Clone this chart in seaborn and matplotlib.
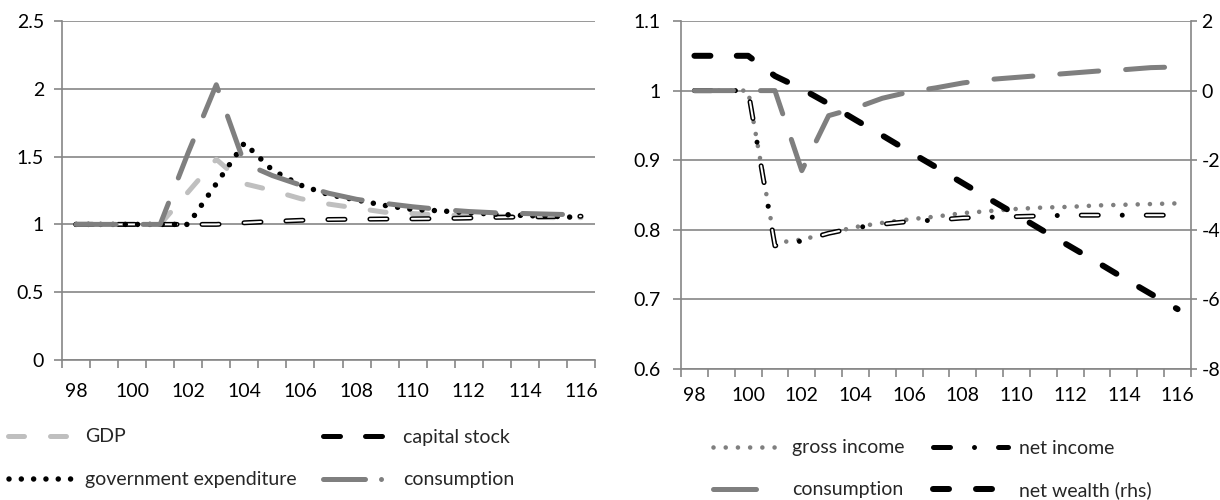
import numpy as np
import pandas as pd
import seaborn as sns
import matplotlib.pyplot as plt
from matplotlib.lines import Line2D

# ---------------------------------------------------------------- data
years = list(range(98, 117))
label_years = list(range(98, 117, 2))
label_year_text = [str(y) for y in label_years]

gdp = [1.00, 1.00, 1.00, 1.00, 1.24, 1.48, 1.30, 1.25, 1.19, 1.15,
       1.12, 1.09, 1.08, 1.07, 1.065, 1.06, 1.055, 1.05, 1.05]
capital_stock = [1.00, 1.00, 1.00, 1.00, 1.00, 1.00, 1.012, 1.022, 1.030, 1.036,
                 1.038, 1.040, 1.041, 1.043, 1.047, 1.052, 1.055, 1.058, 1.060]
government_expenditure = [1.00, 1.00, 1.00, 1.00, 1.00, 1.30, 1.60, 1.40, 1.29, 1.22,
                          1.18, 1.14, 1.11, 1.10, 1.085, 1.075, 1.065, 1.06, 1.05]
consumption_left = [1.00, 1.00, 1.00, 1.00, 1.53, 2.03, 1.45, 1.36, 1.29, 1.23,
                    1.185, 1.155, 1.13, 1.11, 1.095, 1.085, 1.08, 1.075, 1.07]

gross_income = [1.00, 1.00, 1.00, 0.781, 0.786, 0.795, 0.804, 0.810, 0.815, 0.819,
                0.824, 0.827, 0.830, 0.832, 0.833, 0.835, 0.836, 0.837, 0.838]
net_income = [1.00, 1.00, 1.00, 0.777, 0.784, 0.795, 0.803, 0.808, 0.812, 0.814,
              0.817, 0.818, 0.819, 0.820, 0.821, 0.821, 0.821, 0.821, 0.821]
consumption_right = [1.00, 1.00, 1.00, 1.00, 0.885, 0.964, 0.975, 0.989, 0.998, 1.004,
                     1.011, 1.016, 1.019, 1.022, 1.025, 1.028, 1.030, 1.033, 1.034]
net_wealth = [1.00, 1.00, 1.00, 0.42, 0.05, -0.38, -0.84, -1.29, -1.75, -2.20,
              -2.66, -3.12, -3.57, -4.03, -4.48, -4.93, -5.39, -5.84, -6.28]

left_yticks = [0, 0.5, 1, 1.5, 2, 2.5]
left_ytick_text = ["0", "0.5", "1", "1.5", "2", "2.5"]
right_yticks = [0.6, 0.7, 0.8, 0.9, 1.0, 1.1]
right_ytick_text = ["0.6", "0.7", "0.8", "0.9", "1", "1.1"]
rhs_yticks = [-8, -6, -4, -2, 0, 2]
rhs_ytick_text = ["-8", "-6", "-4", "-2", "0", "2"]

# ---------------------------------------------------------------- style
sns.set_theme(style="white")
plt.rcParams["font.family"] = ["Lato", "DejaVu Sans"]
plt.rcParams["lines.scale_dashes"] = False
plt.rcParams["lines.dash_capstyle"] = "round"
plt.rcParams["lines.solid_capstyle"] = "round"
plt.rcParams["axes.unicode_minus"] = False

FS = 14
FS_PX = FS / 72 * 100
AXIS = "#868686"
BLACK = "#000000"
DARK = "#7F7F7F"
LIGHT = "#BFBFBF"
PX = 0.72  # points per pixel at 100 dpi
LW = 5 * PX

W, H = 1220, 500
fig = plt.figure(figsize=(W / 100, H / 100), dpi=100)
fig.patch.set_facecolor("white")


def box(x0, y0, x1, y1):
    return [x0 / W, 1 - y1 / H, (x1 - x0) / W, (y1 - y0) / H]


ax1 = fig.add_axes(box(62, 21, 595, 360))
ax2 = fig.add_axes(box(681, 21, 1191, 369))
ax2r = ax2.twinx()

# line styles (dash patterns in points)
ls_gdp = (0, (16 * PX, 26 * PX))
ls_cap = (0, (17 * PX, 25 * PX))
ls_gov = (0, (0.01, 12.3 * PX))
ls_cons_l = (0, (40 * PX, 27 * PX))
ls_gross = (0, (0.01, 12.2 * PX))
ls_net = (0, (17 * PX, 24 * PX, 0.01, 24 * PX))
ls_net_inner = (0, (17 * PX, 48.01 * PX))
ls_cons_r = (0, (39 * PX, 27 * PX))
ls_wealth = (0, (16 * PX, 27 * PX))

# legend keys
key_cons_l = (0, (42 * PX, 16 * PX, 0.01, 40 * PX))
key_cons_r = (0, (43 * PX, 40 * PX))


def draw(ax, y, **kw):
    sns.lineplot(x=years, y=y, ax=ax, **kw)
    return ax.lines[-1]


# ---------------------------------------------------------------- left panel
draw(ax1, gdp, color=LIGHT, linewidth=LW, linestyle=ls_gdp)
draw(ax1, capital_stock, color=BLACK, linewidth=LW, linestyle=ls_cap)
draw(ax1, capital_stock, color="white", linewidth=2 * PX, linestyle=ls_cap)
draw(ax1, government_expenditure, color=BLACK, linewidth=5.5 * PX, linestyle=ls_gov)
draw(ax1, consumption_left, color=DARK, linewidth=LW, linestyle=ls_cons_l)

# ---------------------------------------------------------------- right panel
draw(ax2, gross_income, color=DARK, linewidth=4.6 * PX, linestyle=ls_gross)
draw(ax2, net_income, color=BLACK, linewidth=LW, linestyle=ls_net)
draw(ax2, net_income, color="white", linewidth=2 * PX, linestyle=ls_net_inner)
draw(ax2, consumption_right, color=DARK, linewidth=LW, linestyle=ls_cons_r)
wealth_line = draw(ax2r, net_wealth, color=BLACK, linewidth=6 * PX, linestyle=ls_wealth)


def style_axes(ax, yticks, ytext, ylim, ypad, xpad):
    ax.set_xlim(97.5, 116.5)
    ax.set_ylim(*ylim)
    ax.set_xlabel("")
    ax.set_ylabel("")
    ax.set_yticks(yticks)
    ax.set_yticklabels(ytext)
    ax.set_xticks(label_years)
    ax.set_xticklabels(label_year_text)
    ax.set_xticks(np.arange(97.5, 117, 1.0), minor=True)
    ax.tick_params(axis="x", which="major", length=0, pad=xpad,
                   labelsize=FS, labelcolor="black")
    ax.tick_params(axis="x", which="minor", length=6, width=1.2,
                   color=AXIS, direction="out", bottom=True)
    ax.tick_params(axis="y", which="major", length=6, width=1.2,
                   color=AXIS, direction="out", left=True, pad=ypad,
                   labelsize=FS, labelcolor="black")
    ax.yaxis.grid(True, color=AXIS, linewidth=1.2)
    ax.xaxis.grid(False)
    ax.set_axisbelow(True)
    for side in ("top", "right"):
        ax.spines[side].set_visible(False)
    for side in ("left", "bottom"):
        ax.spines[side].set_color(AXIS)
        ax.spines[side].set_linewidth(1.2)


style_axes(ax1, left_yticks, left_ytick_text, (0, 2.5), 7, 16.5)
style_axes(ax2, right_yticks, right_ytick_text, (0.6, 1.1), 8.5, 13)

ax2r.set_ylim(-8, 2)
ax2r.set_yticks(rhs_yticks)
ax2r.set_yticklabels(rhs_ytick_text)
ax2r.set_ylabel("")
ax2r.tick_params(axis="y", length=4.5, width=1.2, color=AXIS, direction="out",
                 right=True, pad=3, labelsize=FS, labelcolor="black")
ax2r.grid(False)
for side in ("top", "left", "bottom"):
    ax2r.spines[side].set_visible(False)
ax2r.spines["right"].set_color(AXIS)
ax2r.spines["right"].set_linewidth(1.2)

# fit the net-wealth dash period to the path so the series ends on a dash
pts = ax2r.transData.transform(np.column_stack([years, net_wealth]))
path_px = np.hypot(*np.diff(pts, axis=0).T).sum()
n_periods = max(1, round((path_px - 2) / 43))
period_px = (path_px - 2) / n_periods
wealth_line.set_linestyle((0, (16 * PX, (period_px - 16) * PX)))

# ---------------------------------------------------------------- legends
def key(handle, label, x_px, y_px, text_x_px):
    pad_px = 11
    hl = (text_x_px - pad_px - x_px) / FS_PX
    fig.legend([handle], [label], loc="center left",
               bbox_to_anchor=(x_px / W, 1 - y_px / H),
               frameon=False, borderpad=0, borderaxespad=0,
               handlelength=hl, handletextpad=pad_px / FS_PX, fontsize=FS)


key(Line2D([], [], color=LIGHT, lw=LW, ls=ls_gdp), "GDP", 8, 437, 85)
key(Line2D([], [], color=BLACK, lw=LW, ls=ls_cap), "capital stock", 323, 437, 403)
key(Line2D([], [], color=BLACK, lw=5.5 * PX, ls=ls_gov), "government expenditure", 9, 480, 85)
key(Line2D([], [], color=DARK, lw=LW, ls=key_cons_l), "consumption", 323, 480, 403)

key(Line2D([], [], color=DARK, lw=4.6 * PX, ls=ls_gross), "gross income", 713, 448, 792)
key(Line2D([], [], color=BLACK, lw=LW, ls=ls_net), "net income", 933, 448, 1019)
key(Line2D([], [], color=DARK, lw=LW, ls=key_cons_r), "consumption", 713, 490, 792)
key(Line2D([], [], color=BLACK, lw=6 * PX, ls=ls_wealth), "net wealth (rhs)", 933, 490, 1019)

fig.savefig("out.png", dpi=100, facecolor="white")
